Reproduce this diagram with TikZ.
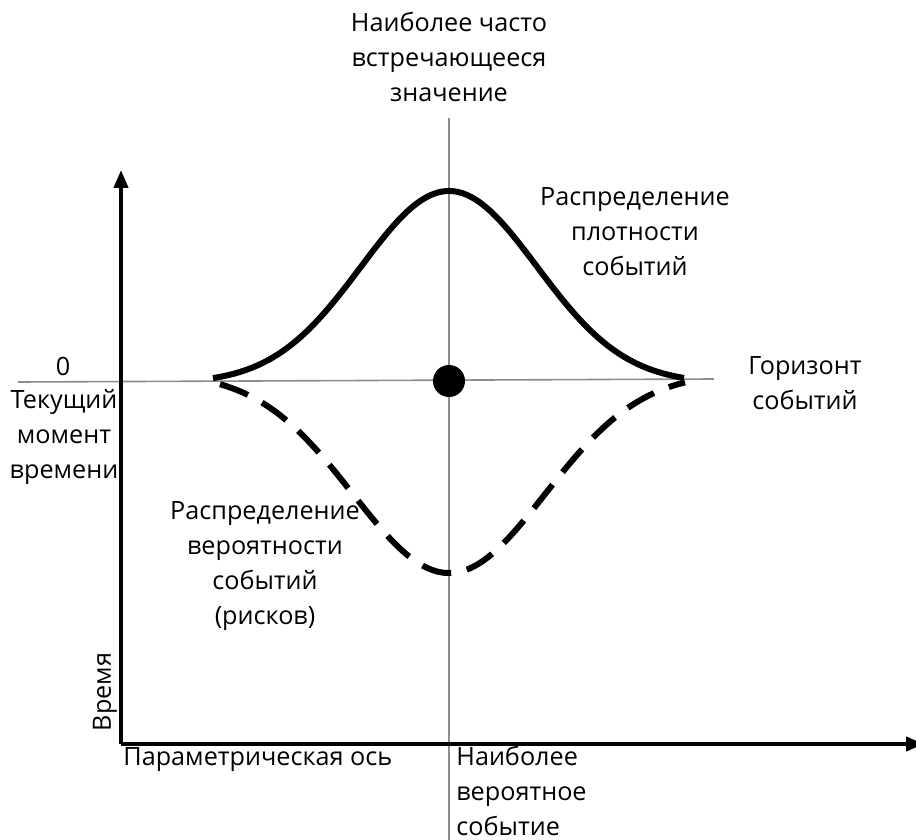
\documentclass[tikz,border=0pt]{standalone}
\usepackage{fontspec}
\setmainfont{Open Sans}
\usepackage{tikz}
\usetikzlibrary{arrows.meta, positioning}
\definecolor{guide}{HTML}{8C8C8C}

\begin{document}
\begin{tikzpicture}[
    x=0.5pt, y=-0.5pt,
    font=\fontsize{12.6}{17.5}\selectfont,
    lbl/.style={inner sep=0pt, align=center},
    axis/.style={-{Triangle[length=9pt, width=7pt]}, line width=2pt},
    guideline/.style={guide, line width=0.8pt},
    curve/.style={line width=3pt},
    dashcurve/.style={line width=3pt, dash pattern=on 15pt off 8pt}
  ]
    \useasboundingbox[fill=white] (0,0) rectangle (916,840);
    % axes and guides
    \coordinate (o) at (121,744);
    \coordinate (ytop) at (121,170);
    \coordinate (xend) at (924,744);
    \coordinate (hl) at (18,382);
    \coordinate (hr) at (714,379);
    \coordinate (vt) at (449,118);
    \coordinate (vb) at (449,840);
    \draw[guideline] (hl) -- (hr);
    \draw[guideline] (vt) -- (vb);
    \draw[axis] (o) -- (ytop);
    \draw[axis] (o) -- (xend);
    % curves
    \draw[curve] plot[domain=213:684, samples=80, smooth]
      (\x, {378-187*(exp(-((\x-449)/88)^2/2)-0.028)/0.972});
    \draw[dashcurve] plot[domain=220:685, samples=80, smooth]
      (\x, {384+189*(exp(-((\x-449)/96)^2/2)-0.057)/0.943});
    \node[circle, fill=black, minimum size=16pt, inner sep=0pt] (dot) at (449,381) {};
    % labels
    \node[lbl] (top) at (449,57) {Наиболее часто\\встречающееся\\значение};
    \node[lbl] (dens) at (635,232) {Распределение\\плотности\\событий};
    \node[lbl] (zero) at (63,366) {0};
    \node[lbl] (now) at (64,437) {Текущий\\момент\\времени};
    \node[lbl] (hor) at (805,383) {Горизонт\\событий};
    \node[lbl] (prob) at (265,566) {Распределение\\вероятности\\событий\\(рисков)};
    \node[lbl, rotate=90] (time) at (105,692) {Время};
    \node[lbl, anchor=west] (par) at (123,760) {Параметрическая ось};
    \node[lbl, align=left, anchor=west] (likely) at (456,791) {Наиболее\\вероятное\\событие};
\end{tikzpicture}
\end{document}
